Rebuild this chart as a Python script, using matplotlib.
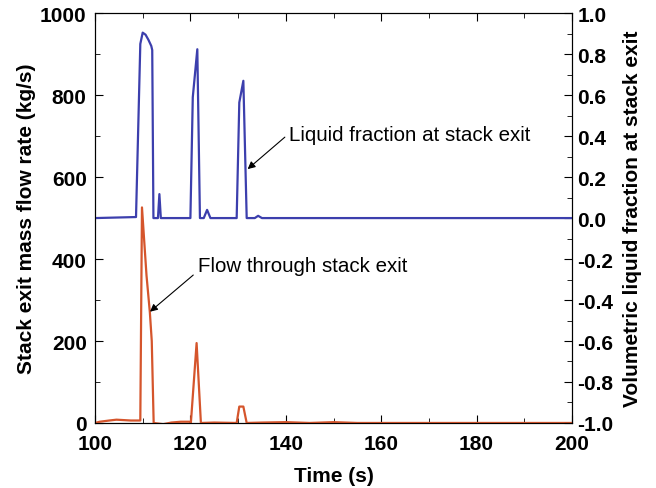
import numpy as np
import matplotlib.pyplot as plt
from matplotlib.ticker import MultipleLocator, FormatStrFormatter

plt.rcParams['font.family'] = ['Liberation Sans', 'DejaVu Sans']
plt.rcParams['axes.unicode_minus'] = False

# liquid fraction at stack exit (right axis)
t_frac = [100, 108.6, 109.5, 110.0, 110.6, 111.2, 111.8, 112.0, 112.25, 113.2, 113.5, 113.8,
          120.0, 120.5, 121.45, 122.0, 122.8, 123.5, 124.2, 129.7, 130.25, 131.1, 131.8,
          133.5, 134.2, 135.0, 200]
frac = [0.0, 0.005, 0.85, 0.905, 0.895, 0.87, 0.84, 0.82, 0.0, 0.0, 0.117, 0.0,
        0.0, 0.59, 0.824, 0.0, 0.0, 0.04, 0.0, 0.0, 0.564, 0.67, 0.0,
        0.0, 0.011, 0.0, 0.0]

# mass flow through stack exit (left axis)
t_flow = [100, 101, 103, 104.5, 106, 107.5, 109.5, 109.85, 110.8, 111.5, 111.9, 112.3,
          114.3, 116, 118, 119.8, 120.1, 121.3, 122.2, 125, 129.7, 130.25, 131.1, 131.8,
          135, 140, 145, 150, 155, 200]
flow = [0, 3, 6, 8, 7, 6, 6, 526, 360, 270, 200, 0,
        -3, 1, 3, 3, 0, 195, 0, 1, 0, 40, 40, 0,
        1, 2, 0, 2, 0, 0]

fig = plt.figure(figsize=(6.56, 4.89), dpi=100)
ax = fig.add_axes([0.1448, 0.133, 0.7272, 0.838])
ax2 = ax.twinx()

ax.plot(t_flow, flow, color='#d5552c', lw=1.6, zorder=3)
ax2.plot(t_frac, frac, color='#3c3fad', lw=1.6)

ax.set_xlim(100, 200)
ax.set_ylim(0, 1000)
ax2.set_ylim(-1.0, 1.0)

ax.xaxis.set_major_locator(MultipleLocator(20))
ax.xaxis.set_minor_locator(MultipleLocator(10))
ax.yaxis.set_major_locator(MultipleLocator(200))
ax.yaxis.set_minor_locator(MultipleLocator(100))
ax2.yaxis.set_major_locator(MultipleLocator(0.2))
ax2.yaxis.set_minor_locator(MultipleLocator(0.1))
ax2.yaxis.set_major_formatter(FormatStrFormatter('%.1f'))

for a in (ax, ax2):
    a.tick_params(which='both', direction='in', labelsize=15)
    a.tick_params(which='major', length=6)
    a.tick_params(which='minor', length=3.5)
    for lab in a.get_xticklabels() + a.get_yticklabels():
        lab.set_fontweight('bold')
ax.tick_params(top=True, which='both')
ax.tick_params(axis='x', pad=8)
ax.tick_params(axis='y', pad=6)
ax2.tick_params(axis='y', pad=4)

ax.set_xlabel('Time (s)', fontsize=15, fontweight='bold', labelpad=9)
ax.set_ylabel('Stack exit mass flow rate (kg/s)', fontsize=15, fontweight='bold', labelpad=3)
ax2.set_ylabel('Volumetric liquid fraction at stack exit', fontsize=15, fontweight='bold', labelpad=7)

arrow = dict(arrowstyle='-|>', color='black', lw=0.8, shrinkA=0, shrinkB=0, mutation_scale=11)
ax2.text(140.67, 0.41, 'Liquid fraction at stack exit', fontsize=14.8, va='center', ha='left')
ax2.annotate('', xy=(132.0, 0.239), xytext=(139.8, 0.395), arrowprops=arrow)
ax.text(121.66, 385, 'Flow through stack exit', fontsize=14.8, va='center', ha='left')
ax.annotate('', xy=(111.53, 271.5), xytext=(120.6, 361), arrowprops=arrow)

fig.savefig('out.png', dpi=100)
